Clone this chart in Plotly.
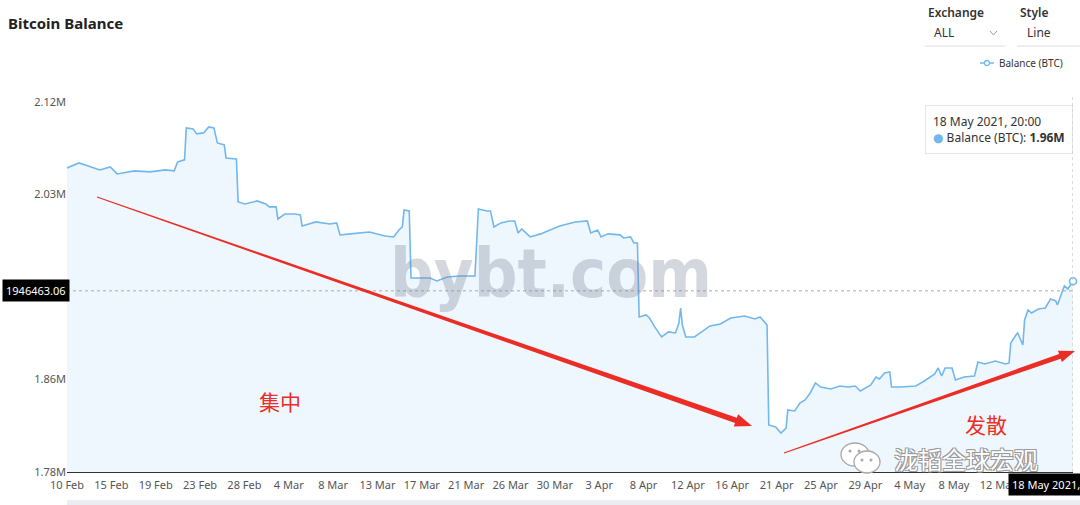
import numpy as np
import pandas as pd
import plotly.graph_objects as go

# ---------------- data ----------------
TITLE = "Bitcoin Balance"
SERIES_NAME = "Balance (BTC)"

DATES = [
    "2021-02-10 20:00", "2021-02-12 00:00", "2021-02-14 00:00", "2021-02-15 00:00", "2021-02-15 16:00",
    "2021-02-17 08:00", "2021-02-18 20:00", "2021-02-20 08:00", "2021-02-21 04:00", "2021-02-21 12:00",
    "2021-02-22 04:00", "2021-02-22 08:00", "2021-02-23 00:00", "2021-02-23 08:00", "2021-02-24 00:00",
    "2021-02-24 12:00", "2021-02-25 00:00", "2021-02-25 08:00", "2021-02-26 00:00", "2021-02-26 04:00",
    "2021-02-27 04:00", "2021-02-27 08:00", "2021-02-28 00:00", "2021-03-01 04:00", "2021-03-02 00:00",
    "2021-03-02 08:00", "2021-03-03 00:00", "2021-03-03 04:00", "2021-03-03 20:00", "2021-03-04 20:00",
    "2021-03-05 08:00", "2021-03-05 12:00", "2021-03-06 20:00", "2021-03-08 04:00", "2021-03-08 20:00",
    "2021-03-09 04:00", "2021-03-10 04:00", "2021-03-12 00:00", "2021-03-13 12:00", "2021-03-14 08:00",
    "2021-03-14 20:00", "2021-03-15 04:00", "2021-03-15 08:00", "2021-03-15 20:00", "2021-03-16 00:00",
    "2021-03-17 20:00", "2021-03-18 12:00", "2021-03-19 12:00", "2021-03-20 16:00", "2021-03-22 04:00",
    "2021-03-22 12:00", "2021-03-23 08:00", "2021-03-23 16:00", "2021-03-24 00:00", "2021-03-24 16:00",
    "2021-03-25 12:00", "2021-03-26 00:00", "2021-03-26 08:00", "2021-03-26 16:00", "2021-03-27 12:00",
    "2021-03-28 12:00", "2021-03-30 08:00", "2021-03-31 20:00", "2021-04-02 00:00", "2021-04-02 08:00",
    "2021-04-03 00:00", "2021-04-03 08:00", "2021-04-04 00:00", "2021-04-05 04:00", "2021-04-05 12:00",
    "2021-04-06 04:00", "2021-04-06 12:00", "2021-04-06 20:00", "2021-04-07 00:00", "2021-04-07 16:00",
    "2021-04-08 00:00", "2021-04-08 12:00", "2021-04-09 04:00", "2021-04-09 20:00", "2021-04-10 12:00",
    "2021-04-10 20:00", "2021-04-11 00:00", "2021-04-11 04:00", "2021-04-11 12:00", "2021-04-12 08:00",
    "2021-04-13 08:00", "2021-04-13 20:00", "2021-04-14 20:00", "2021-04-15 20:00", "2021-04-17 04:00",
    "2021-04-18 04:00", "2021-04-18 16:00", "2021-04-19 08:00", "2021-04-19 12:00", "2021-04-20 04:00",
    "2021-04-20 16:00", "2021-04-21 04:00", "2021-04-21 08:00", "2021-04-22 00:00", "2021-04-22 12:00",
    "2021-04-23 00:00", "2021-04-23 12:00", "2021-04-24 00:00", "2021-04-24 12:00", "2021-04-25 12:00",
    "2021-04-26 08:00", "2021-04-27 04:00", "2021-04-27 20:00", "2021-04-28 08:00", "2021-04-29 08:00",
    "2021-04-29 20:00", "2021-04-30 04:00", "2021-04-30 16:00", "2021-05-01 04:00", "2021-05-01 08:00",
    "2021-05-02 04:00", "2021-05-03 16:00", "2021-05-04 12:00", "2021-05-05 12:00", "2021-05-05 20:00",
    "2021-05-06 04:00", "2021-05-06 12:00", "2021-05-07 04:00", "2021-05-07 12:00", "2021-05-08 08:00",
    "2021-05-09 08:00", "2021-05-09 16:00", "2021-05-10 08:00", "2021-05-11 08:00", "2021-05-12 00:00",
    "2021-05-12 08:00", "2021-05-12 16:00", "2021-05-12 20:00", "2021-05-13 08:00", "2021-05-13 12:00",
    "2021-05-14 00:00", "2021-05-14 04:00", "2021-05-14 12:00", "2021-05-14 20:00", "2021-05-15 12:00",
    "2021-05-16 04:00", "2021-05-16 16:00", "2021-05-17 04:00", "2021-05-17 08:00", "2021-05-17 20:00",
    "2021-05-18 00:00", "2021-05-18 08:00", "2021-05-18 20:00",
]

BALANCE_M = [
    2.0594, 2.0640, 2.0576, 2.0604, 2.0539,
    2.0567, 2.0558, 2.0576, 2.0567, 2.0649,
    2.0668, 2.0962, 2.0953, 2.0907, 2.0916,
    2.0971, 2.0962, 2.0824, 2.0805, 2.0686,
    2.0677, 2.0282, 2.0263, 2.0291, 2.0263,
    2.0236, 2.0236, 2.0125, 2.0171, 2.0171,
    2.0162, 2.0061, 2.0098, 2.0079, 2.0088,
    1.9978, 1.9988, 2.0006, 1.9969, 1.9960,
    2.0024, 2.0052, 2.0208, 2.0199, 1.9583,
    1.9583, 1.9556, 1.9592, 1.9601, 1.9601,
    2.0217, 2.0199, 2.0199, 2.0052, 2.0089,
    2.0107, 2.0107, 1.9996, 2.0033, 1.9960,
    1.9988, 2.0061, 2.0098, 2.0107, 1.9997,
    2.0024, 1.9960, 1.9988, 1.9979, 1.9951,
    1.9960, 1.9905, 1.9905, 1.9225, 1.9243,
    1.9215, 1.9133, 1.9041, 1.9087, 1.9078,
    1.9169, 1.9307, 1.9151, 1.9041, 1.9041,
    1.9105, 1.9142, 1.9160, 1.9215, 1.9234,
    1.9206, 1.9225, 1.9151, 1.8232, 1.8214,
    1.8158, 1.8204, 1.8370, 1.8361, 1.8434,
    1.8462, 1.8526, 1.8618, 1.8581, 1.8563,
    1.8590, 1.8581, 1.8590, 1.8544, 1.8600,
    1.8673, 1.8655, 1.8710, 1.8719, 1.8581,
    1.8581, 1.8590, 1.8636, 1.8701, 1.8756,
    1.8682, 1.8756, 1.8756, 1.8646, 1.8673,
    1.8682, 1.8811, 1.8793, 1.8820, 1.8802,
    1.8793, 1.8802, 1.8986, 1.9059, 1.9078,
    1.8967, 1.9197, 1.9289, 1.9261, 1.9298,
    1.9307, 1.9390, 1.9372, 1.9335, 1.9454,
    1.9510, 1.9482, 1.9553,
]

X_TICK_LABELS = ["10 Feb", "15 Feb", "19 Feb", "23 Feb", "28 Feb", "4 Mar", "8 Mar", "13 Mar",
                 "17 Mar", "21 Mar", "26 Mar", "30 Mar", "3 Apr", "8 Apr", "12 Apr", "16 Apr",
                 "21 Apr", "25 Apr", "29 Apr", "4 May", "8 May", "12 May"]
Y_TICK_LABELS = ["1.78M", "1.86M", "1.95M", "2.03M", "2.12M"]
Y_MIN, Y_MAX = 1.78e6, 2.12e6
CURSOR_VALUE = 1946463.06

EXCHANGE_LABEL, EXCHANGE_VALUE = "Exchange", "ALL"
STYLE_LABEL, STYLE_VALUE = "Style", "Line"
WATERMARK = "bybt.com"
NOTE_LEFT = "集中"
NOTE_RIGHT = "发散"
WECHAT_NAME = "泷韬全球宏观"

# ---------------- styling ----------------
FONT = "Noto Sans, Open Sans, DejaVu Sans, sans-serif"
CJK = "Noto Sans CJK SC, sans-serif"
LINE_COLOR = "#72b8ee"
FILL_COLOR = "#eef7fe"
RED = "#ec2d25"

W, H = 1080, 505
L, R, T, B = 67, 1073, 102, 472


def px(v):
    return (v - L) / (R - L)


def py(v):
    return (B - v) / (B - T)


x = pd.to_datetime(DATES)
y = np.array(BALANCE_M) * 1e6

fig = go.Figure()
fig.add_trace(go.Scatter(
    x=x, y=y, mode="lines", name=SERIES_NAME,
    line=dict(color=LINE_COLOR, width=1.6),
    fill="tozeroy", fillcolor=FILL_COLOR, hoverinfo="skip",
))
fig.add_trace(go.Scatter(
    x=[x[-1]], y=[y[-1]], mode="markers", name=SERIES_NAME,
    marker=dict(size=7, color="white", line=dict(color=LINE_COLOR, width=1.6)),
    cliponaxis=False, hoverinfo="skip",
))

# tick positions: evenly spaced labels along the category-like time axis
span_h = (x[-1] - x[0]) / pd.Timedelta(hours=1)
step_h = span_h * 44.35 / (R - L)
tickvals = [x[0] + pd.Timedelta(hours=step_h * k) for k in range(len(X_TICK_LABELS))]

fig.update_layout(
    width=W, height=H, template="none",
    margin=dict(l=L, r=W - R, t=T, b=H - B, autoexpand=False),
    paper_bgcolor="white", plot_bgcolor="white", showlegend=False,
    font=dict(family=FONT, size=11, color="#555"),
)
fig.update_xaxes(
    range=[x[0], x[-1]], tickvals=tickvals, ticktext=X_TICK_LABELS,
    showgrid=False, zeroline=False, showline=True, linecolor="#333", linewidth=1,
    ticks="", tickfont=dict(size=11, color="#555"), automargin=False,
    ticklabelstandoff=3,
)
fig.update_yaxes(
    range=[Y_MIN, Y_MAX], tickvals=list(np.linspace(Y_MIN, Y_MAX, len(Y_TICK_LABELS))),
    ticktext=Y_TICK_LABELS, showgrid=False, zeroline=False, showline=False,
    ticks="", tickfont=dict(size=11, color="#555"), automargin=False,
)

shapes = []
anns = []


def ann(xp, yp, text, **kw):
    d = dict(xref="paper", yref="paper", x=px(xp), y=py(yp), text=text, showarrow=False)
    d.update(kw)
    anns.append(d)


def seg(x0, y0, x1, y1, color, width=1, dash=None):
    ln = dict(color=color, width=width)
    if dash:
        ln["dash"] = dash
    shapes.append(dict(type="line", xref="paper", yref="paper",
                       x0=px(x0), y0=py(y0), x1=px(x1), y1=py(y1), line=ln))


# title
ann(6, 23, f"<b>{TITLE}</b>", xanchor="left", yanchor="middle",
    font=dict(family=FONT, size=15, color="#222"))

# top-right controls
ann(926, 12, EXCHANGE_LABEL, xanchor="left", yanchor="middle",
    font=dict(family=FONT, size=12, color="#333", weight=600))
ann(932, 33, EXCHANGE_VALUE, xanchor="left", yanchor="middle",
    font=dict(family=FONT, size=12, color="#333"))
seg(990, 31, 993.5, 35, "#999")
seg(993.5, 35, 997, 31, "#999")
seg(925, 46, 1005, 46, "#dedede")
ann(1018, 12, STYLE_LABEL, xanchor="left", yanchor="middle",
    font=dict(family=FONT, size=12, color="#333", weight=600))
ann(1025, 33, STYLE_VALUE, xanchor="left", yanchor="middle",
    font=dict(family=FONT, size=12, color="#333"))
seg(1017, 46, 1080, 46, "#dedede")

# legend
seg(980, 63, 994, 63, LINE_COLOR, 1.5)
shapes.append(dict(type="circle", xref="paper", yref="paper",
                   x0=px(984.5), x1=px(989.5), y0=py(65.5), y1=py(60.5),
                   line=dict(color=LINE_COLOR, width=1.3), fillcolor="white"))
ann(997, 63, SERIES_NAME, xanchor="left", yanchor="middle",
    font=dict(family=FONT, size=10, color="#333"))

# watermark
ann(551, 273, f"<b>{WATERMARK}</b>", xanchor="center", yanchor="middle",
    font=dict(family="Liberation Sans Narrow, DejaVu Sans Condensed, sans-serif", size=68,
              color="rgba(120,132,150,0.32)"))

# crosshair
shapes.append(dict(type="line", xref="x", yref="y", x0=x[0], x1=x[-1],
                   y0=CURSOR_VALUE, y1=CURSOR_VALUE,
                   line=dict(color="#aaa", width=1, dash="3px,3px")))
shapes.append(dict(type="line", xref="x", yref="paper", x0=x[-1], x1=x[-1],
                   y0=0, y1=py(96), line=dict(color="#bbb", width=1, dash="3px,3px")))


# hand-drawn red arrows
def tapered_arrow(x0, y0, x1, y1, w0, w1, head_len, head_w):
    dx, dy = x1 - x0, y1 - y0
    d = (dx * dx + dy * dy) ** 0.5
    ux, uy = dx / d, dy / d
    nx, ny = -uy, ux
    bx, by = x1 - ux * head_len, y1 - uy * head_len
    pts = [(x0 + nx * w0 / 2, y0 + ny * w0 / 2), (bx + nx * w1 / 2, by + ny * w1 / 2),
           (bx + nx * head_w / 2, by + ny * head_w / 2), (x1, y1),
           (bx - nx * head_w / 2, by - ny * head_w / 2), (bx - nx * w1 / 2, by - ny * w1 / 2),
           (x0 - nx * w0 / 2, y0 - ny * w0 / 2)]
    return "M " + " L ".join(f"{px(a):.5f},{py(b):.5f}" for a, b in pts) + " Z"


shapes.append(dict(type="path", xref="paper", yref="paper",
                   path=tapered_arrow(97, 197, 752, 426, 1.2, 5.5, 17, 13),
                   fillcolor=RED, line=dict(width=0)))
shapes.append(dict(type="path", xref="paper", yref="paper",
                   path=tapered_arrow(784, 453, 1075, 351, 1.2, 5.0, 16, 12),
                   fillcolor=RED, line=dict(width=0)))
ann(280, 401, NOTE_LEFT, xanchor="center", yanchor="middle",
    font=dict(family=CJK, size=21, color=RED))
ann(986, 424, NOTE_RIGHT, xanchor="center", yanchor="middle",
    font=dict(family=CJK, size=21, color=RED))

# wechat mark
shapes.append(dict(type="circle", xref="paper", yref="paper",
                   x0=px(841), x1=px(869), y0=py(466), y1=py(443),
                   line=dict(color="#a8a8a8", width=1.3), fillcolor="white"))
shapes.append(dict(type="circle", xref="paper", yref="paper",
                   x0=px(854), x1=px(880), y0=py(473), y1=py(451),
                   line=dict(color="#a8a8a8", width=1.3), fillcolor="white"))
for ex, ey in [(850, 451), (859, 451), (862, 460), (871, 460)]:
    shapes.append(dict(type="circle", xref="paper", yref="paper",
                       x0=px(ex - 1.5), x1=px(ex + 1.5), y0=py(ey + 1.5), y1=py(ey - 1.5),
                       line=dict(width=0), fillcolor="#a8a8a8"))
ann(966, 458, WECHAT_NAME, xanchor="center", yanchor="middle",
    font=dict(family=CJK, size=24, color="white",
              shadow="-1px -1px 0 #999, 1px -1px 0 #999, -1px 1px 0 #999, 1px 1px 0 #999"))

# bottom scroll band
shapes.append(dict(type="rect", xref="paper", yref="paper",
                   x0=px(67), x1=px(1080), y0=py(505), y1=py(500),
                   line=dict(width=0), fillcolor="#eaeef3"))

# tooltip
last_date = x[-1]
tip = (f"{last_date.day} {last_date.strftime('%b %Y, %H:%M')}<br>"
       f"<span style='color:{LINE_COLOR}'>●</span> {SERIES_NAME}: <b>{y[-1] / 1e6:.2f}M</b>")
ann(925, 105, tip, xanchor="left", yanchor="top", align="left",
    bgcolor="white", bordercolor="rgba(0,0,0,0.10)", borderwidth=1, borderpad=7,
    font=dict(family=FONT, size=12, color="#333"))

# axis-pointer labels
anns.append(dict(xref="paper", yref="y", x=px(70), y=CURSOR_VALUE, text=f"{CURSOR_VALUE:.2f}",
                 showarrow=False, xanchor="right", yanchor="middle", bgcolor="black",
                 borderpad=3, font=dict(family=FONT, size=11, color="white")))
ann(1008, 484, f"{last_date.day} {last_date.strftime('%b %Y, %H:%M')}", xanchor="left",
    yanchor="middle", bgcolor="black", borderpad=3,
    font=dict(family=FONT, size=11, color="white"))

fig.update_layout(shapes=shapes, annotations=anns)
fig.write_html("out.html", config={"displayModeBar": False},
               post_script="document.body.style.margin='0';document.body.style.overflow='hidden';")
